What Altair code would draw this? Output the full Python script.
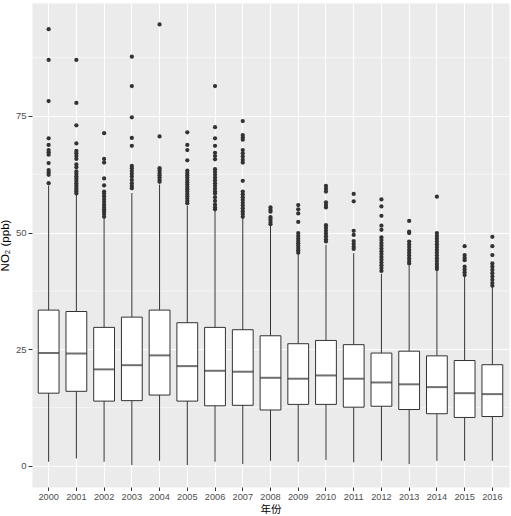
import altair as alt
import pandas as pd

# Yearly NO2 distributions (ppb): box summaries and outlying points
years = [str(y) for y in range(2000, 2017)]
whisker_low = [0.9, 1.6, 0.9, 0.2, 1.1, 0.2, 0.9, 0.4, 1.1, 0.9, 1.3, 0.8, 1.1, 0.4, 1.1, 1.1, 1.1]
q1 = [15.6, 16.0, 13.9, 14.0, 15.2, 13.9, 12.9, 13.0, 12.0, 13.2, 13.2, 12.6, 12.8, 12.1, 11.2, 10.4, 10.6]
median = [24.2, 24.1, 20.7, 21.6, 23.7, 21.4, 20.4, 20.2, 18.9, 18.7, 19.4, 18.7, 17.9, 17.5, 16.9, 15.6, 15.4]
q3 = [33.4, 33.1, 29.7, 31.9, 33.4, 30.7, 29.7, 29.2, 27.9, 26.2, 26.9, 26.0, 24.2, 24.6, 23.6, 22.6, 21.7]
whisker_high = [60.1, 58.3, 53.0, 58.5, 60.3, 55.8, 54.8, 53.3, 51.6, 45.4, 47.4, 45.6, 41.2, 43.0, 41.9, 40.6, 38.2]

outliers = [
    [93.6, 87.0, 78.2, 70.2, 68.8, 67.7, 67.2, 66.7, 64.9, 63.4, 62.9, 62.4, 60.6],
    [87.0, 77.8, 73.0, 69.1, 67.5, 67.0, 66.4, 65.8, 64.6, 64.0, 63.1, 62.6, 62.1,
     61.6, 61.1, 60.6, 60.1, 59.6, 59.2, 58.8, 58.4],
    [71.3, 65.8, 65.0, 61.6, 60.1, 58.8, 58.4, 57.8, 57.2, 56.6, 56.0, 55.5, 55.0,
     54.5, 54.0, 53.4],
    [87.7, 81.4, 74.7, 70.3, 68.6, 64.3, 63.8, 63.2, 62.6, 62.0, 61.3, 60.6, 60.0, 59.5],
    [94.6, 70.6, 63.8, 63.3, 62.8, 62.3, 61.8, 61.3, 60.9],
    [71.5, 68.8, 67.7, 65.5, 63.3, 62.8, 62.3, 61.8, 61.3, 60.8, 60.3, 59.8, 59.3,
     58.8, 58.3, 57.8, 57.3, 56.8, 56.3],
    [81.4, 72.6, 70.2, 68.6, 67.1, 66.4, 65.7, 63.6, 63.0, 62.4, 61.8, 61.2, 60.6,
     60.0, 59.4, 58.8, 58.4, 57.6, 56.8, 56.0, 55.4, 55.0],
    [73.9, 70.9, 70.4, 69.9, 67.7, 67.0, 66.3, 65.6, 65.0, 61.1, 58.8, 58.2, 57.6,
     57.0, 56.4, 55.8, 55.2, 54.6, 54.0, 53.4],
    [55.4, 54.9, 54.5, 53.3, 52.8, 52.3, 51.8],
    [55.9, 55.0, 54.1, 52.3, 49.9, 49.3, 48.7, 48.2, 47.7, 47.2, 46.7, 46.2, 45.7],
    [60.0, 59.4, 58.8, 56.5, 55.9, 55.4, 51.6, 51.0, 50.4, 49.8, 49.2, 48.6, 48.1],
    [58.3, 56.7, 50.4, 49.5, 48.2, 47.6, 47.0, 46.5],
    [57.1, 55.6, 53.6, 51.5, 50.6, 49.0, 48.4, 47.8, 47.2, 46.6, 46.0, 45.4, 44.8,
     44.2, 43.6, 43.0, 42.4, 41.8],
    [52.5, 50.2, 49.9, 48.1, 47.5, 46.9, 46.3, 45.7, 45.1, 44.5, 43.9, 43.4],
    [57.7, 49.9, 49.3, 48.7, 48.1, 47.5, 46.9, 46.3, 45.7, 45.1, 44.5, 43.9, 43.3,
     42.7, 42.2],
    [47.1, 45.2, 44.6, 44.1, 42.7, 42.1, 41.5, 40.9],
    [49.1, 47.1, 45.2, 43.4, 42.7, 42.0, 41.3, 40.6, 39.9, 39.2, 38.6],
]

y_ticks = [0, 25, 50, 75]
y_minor = [12.5, 37.5, 62.5, 87.5]

boxes = pd.DataFrame({
    "year": years, "lo": whisker_low, "q1": q1, "med": median,
    "q3": q3, "hi": whisker_high,
})
points = pd.DataFrame(
    [{"year": y, "no2": v} for y, vals in zip(years, outliers) for v in vals]
)
minor = pd.DataFrame({"v": y_minor})

ink = "#333333"
y_scale = alt.Scale(domain=[-4.5, 99.2], nice=False, zero=False)

x_enc = alt.X(
    "year:N", sort=years, title="年份",
    scale=alt.Scale(paddingInner=0, paddingOuter=0.1),
    axis=alt.Axis(
        labelAngle=0, bandPosition=0.5, grid=True, gridColor="white",
        gridWidth=1.1, domain=False, tickColor=ink, tickSize=3.5, tickWidth=1,
        labelPadding=1.5, labelColor="#4D4D4D", labelFontSize=9.2,
        labelFont="Liberation Sans", titleFont="Noto Sans CJK SC",
        titleFontSize=10.5, titleFontWeight="normal", titleColor="black",
        titleY=17.5, titleBaseline="top",
    ),
)

y_axis = alt.Axis(
    values=y_ticks, grid=True, gridColor="white", gridWidth=1.1, domain=False,
    tickColor=ink, tickSize=4, tickWidth=1, labelPadding=2,
    labelColor="#4D4D4D", labelFontSize=9.5, labelFont="Liberation Sans",
    titleFont="Liberation Sans", titleFontSize=11.5, titleFontWeight="normal",
    titleColor="black", titleX=-22, titleBaseline="bottom",
)

minor_grid = alt.Chart(minor).mark_rule(color="white", strokeWidth=0.55).encode(
    y=alt.Y("v:Q", scale=y_scale, axis=y_axis, title="NO₂ (ppb)")
)

whiskers = alt.Chart(boxes).mark_rule(color=ink, strokeWidth=1).encode(
    x=x_enc,
    y=alt.Y("lo:Q", scale=y_scale, axis=y_axis, title="NO₂ (ppb)"),
    y2="hi:Q",
)

box = alt.Chart(boxes).mark_bar(
    width=alt.RelativeBandSize(0.75), fill="white", stroke=ink, strokeWidth=1
).encode(
    x=x_enc,
    y=alt.Y("q1:Q", scale=y_scale),
    y2="q3:Q",
)

med = alt.Chart(boxes).mark_tick(color=ink, thickness=2, size=20.8).encode(
    x=x_enc,
    y=alt.Y("med:Q", scale=y_scale),
)

dots = alt.Chart(points).mark_circle(size=18, color=ink, opacity=1).encode(
    x=x_enc,
    y=alt.Y("no2:Q", scale=y_scale),
)

chart = (
    alt.layer(minor_grid, whiskers, box, med, dots)
    .properties(
        width=477, height=484,
        autosize=alt.AutoSizeParams(type="none"),
        padding={"left": 32, "top": 3, "right": 2, "bottom": 29},
    )
    .configure_view(fill="#EBEBEB", stroke="transparent")
)

chart.save("out.html", embed_options={"renderer": "svg", "actions": False})
